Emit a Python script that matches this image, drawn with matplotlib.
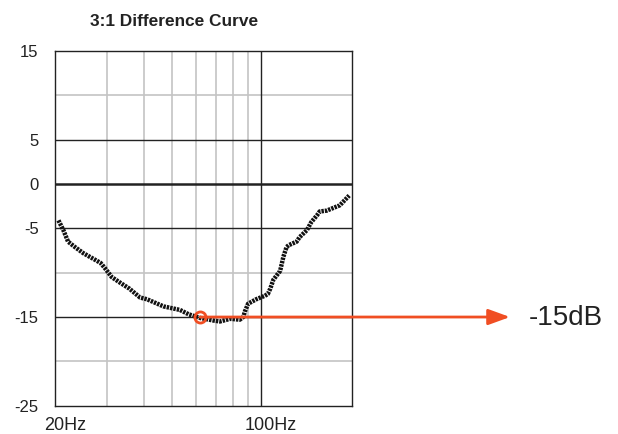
import matplotlib
matplotlib.use("Agg")
import matplotlib.pyplot as plt
from matplotlib.ticker import NullLocator, FixedLocator, NullFormatter
import matplotlib.transforms as mtransforms

plt.rcParams['font.family'] = ['Liberation Sans', 'DejaVu Sans']

title = "3:1 Difference Curve"
freq = [20.5, 21.3, 22.1, 23.3, 24.9, 28.5, 29.5, 31.1, 33.1, 35.7, 38.8, 41.0,
        46.6, 53.0, 56.8, 62.0, 69.0, 72.5, 78.6, 84.6, 87.0, 88.0, 90.3, 96.2,
        103.0, 105.4, 107.4, 110.0, 116.0, 119.0, 122.0, 124.0, 132.0, 135.0,
        143.0, 148.0, 155.0, 158.0, 167.0, 185.0, 199.0]
db = [-4.1, -5.2, -6.5, -7.1, -7.8, -8.9, -9.5, -10.5, -11.1, -11.8, -12.8, -13.0,
      -13.8, -14.2, -14.7, -15.1, -15.4, -15.5, -15.2, -15.3, -15.0, -14.4, -13.5, -13.0,
      -12.6, -12.4, -11.8, -10.8, -9.8, -8.2, -7.1, -6.9, -6.5, -6.0,
      -5.2, -4.3, -3.5, -3.1, -3.0, -2.4, -1.3]
ytick_vals = [15, 5, 0, -5, -15, -25]
ytick_labels = ["15", "5", "0", "-5", "-15", "-25"]
ygray = [10, -10, -20]
xgrid_minor = [30, 40, 50, 60, 70, 80, 90]
xtick_vals = [20, 100]
xtick_labels = ["20Hz", "100Hz"]
marker_freq = 62.0
marker_db = -15.0
annot_text = "-15dB"

RED = "#F04E23"
W, H = 618, 434
fig = plt.figure(figsize=(W / 100, H / 100), dpi=100)
ax = fig.add_axes([55.3 / W, 1 - 405.7 / H, (351.7 - 55.3) / W, (405.7 - 51) / H])
ax.set_xscale('log')
ax.set_xlim(20, 203)
ax.set_ylim(-25, 15)

for x in xgrid_minor:
    ax.axvline(x, color='#c4c4c4', lw=1.2, zorder=1)
ax.axvline(100, color='#222222', lw=1.0, zorder=2)
for y in ygray:
    ax.axhline(y, color='#c4c4c4', lw=1.2, zorder=1)
for y in ytick_vals:
    if y in (15, -25):
        continue
    ax.axhline(y, color='#222222', lw=1.8 if y == 0 else 1.0, zorder=2)

for s in ax.spines.values():
    s.set_color('#222222')
    s.set_linewidth(1.0)

ax.xaxis.set_major_locator(FixedLocator(xtick_vals))
ax.xaxis.set_minor_locator(NullLocator())
ax.xaxis.set_minor_formatter(NullFormatter())
ax.set_xticklabels(xtick_labels, fontsize=13, color='#222222')
ax.set_yticks(ytick_vals)
ax.set_yticklabels(ytick_labels, fontsize=12, color='#222222')
ax.tick_params(axis='both', length=0)
ax.tick_params(axis='y', pad=12)
ax.tick_params(axis='x', pad=8)
offset = mtransforms.ScaledTranslation(10 / 100, 0, fig.dpi_scale_trans)
for lab in ax.get_xticklabels():
    lab.set_transform(lab.get_transform() + offset)

ax.plot(freq, db, color='#111111', lw=3.2, linestyle=(0, (0.55, 0.22)),
        solid_capstyle='butt', zorder=4)

# red arrow to outside
ax.annotate('', xy=(510 / W, marker_db), xycoords=('figure fraction', 'data'),
            xytext=(marker_freq, marker_db), textcoords='data',
            arrowprops=dict(arrowstyle='-|>,head_length=1.1,head_width=0.4',
                            color=RED, lw=2.0, shrinkA=0, shrinkB=0,
                            mutation_scale=12),
            annotation_clip=False, zorder=5)
ax.plot([marker_freq], [marker_db], marker='o', ms=8, mfc='none', mec=RED,
        mew=2.0, zorder=6, clip_on=False)

fig.text(529 / W, 1 - 318 / H, annot_text, fontsize=20, color='#222222',
         ha='left', va='center')
fig.text(174 / W, 1 - 21 / H, title, fontsize=12.4, fontweight='bold',
         color='#222222', ha='center', va='center')

fig.savefig("out.png", dpi=100)
